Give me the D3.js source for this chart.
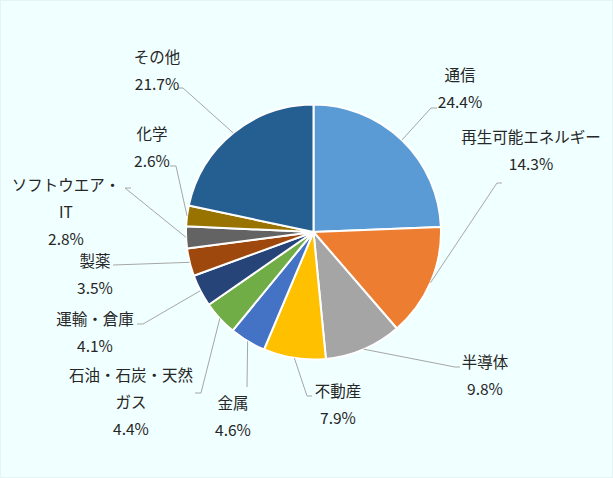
<!DOCTYPE html>
<html><head><meta charset="utf-8">
<script src="https://cdn.jsdelivr.net/npm/d3@7"></script>
<style>
html,body{margin:0;padding:0;background:#F0FFFF;}
svg{display:block;}
</style></head>
<body>
<svg id="chart" width="613" height="478"></svg>
<script>
// ---- data ----
const categories = ["通信","再生可能エネルギー","半導体","不動産","金属","石油・石炭・天然ガス","運輸・倉庫","製薬","ソフトウエア・IT","化学","その他"];
const values = [24.4, 14.3, 9.8, 7.9, 4.6, 4.4, 4.1, 3.5, 2.8, 2.6, 21.7];
const colors = ["#5B9BD5","#ED7D31","#A5A5A5","#FFC000","#4472C4","#70AD47","#264478","#9E480E","#636363","#997300","#255E91"];

// ---- layout (label placement) ----
const labelLines = [["通信"],["再生可能エネルギー"],["半導体"],["不動産"],["金属"],["石油・石炭・天然","ガス"],["運輸・倉庫"],["製薬"],["ソフトウエア・","IT"],["化学"],["その他"]];
const labelAnchor = [[460,75],[531,137],[485,362],[338,391],[233,403],[131,375],[95,319],[95,261],[66,185],[152,134],[157,57]];
const leaderElbow = [[431,108],[497,183],[455,367],[307,396],[247,387],[201,393],[143,324],[113,265],[125,188],[176,166],[183,88]];
const leaderEnd = [[437,108],[502,183],[460,367],[312,396],null,[195,393],[137,324],null,[131,188],[170,166],[178,88]];

const W = 613, H = 478, cx = 313.5, cy = 232, R = 127.5;
const svg = d3.select("#chart");
svg.append("rect").attr("x",0.5).attr("y",0.5).attr("width",W-1).attr("height",H-1)
  .attr("fill","#F0FFFF").attr("stroke","#E4F4F4");

const data = categories.map((c,i)=>({name:c, value:values[i], i}));
const pie = d3.pie().sort(null).value(d=>d.value);
const arcs = pie(data);
const arc = d3.arc().innerRadius(0).outerRadius(R);
const edge = d3.arc().innerRadius(R).outerRadius(R);

const g = svg.append("g").attr("transform",`translate(${cx},${cy})`);
g.selectAll("path.slice").data(arcs).join("path")
  .attr("class","slice")
  .attr("d",arc)
  .attr("fill",d=>colors[d.data.i])
  .attr("stroke","#FFFFFF").attr("stroke-width",2).attr("stroke-linejoin","round");

// leader lines
const lines = svg.append("g");
arcs.forEach((d,i)=>{
  const p = edge.centroid(d);
  const pts = [[cx+p[0], cy+p[1]], leaderElbow[i]];
  if (leaderEnd[i]) pts.push(leaderEnd[i]);
  lines.append("path").attr("d", d3.line()(pts))
    .attr("fill","none").attr("stroke","#A6A6A6").attr("stroke-width",1);
});

// labels
const fmt = d3.format(".1f");
const lab = svg.append("g")
  .attr("font-family","'Noto Sans CJK JP','Noto Sans',sans-serif")
  .attr("font-size","15.5px").attr("fill","#262626").attr("text-anchor","middle");
arcs.forEach((d,i)=>{
  const ls = labelLines[i].concat([fmt(d.data.value)+"%"]);
  const [x,y] = labelAnchor[i];
  ls.forEach((t,k)=>{
    lab.append("text").attr("x",x).attr("y",y+k*27).attr("dy","0.36em").text(t);
  });
});
</script>
</body></html>
